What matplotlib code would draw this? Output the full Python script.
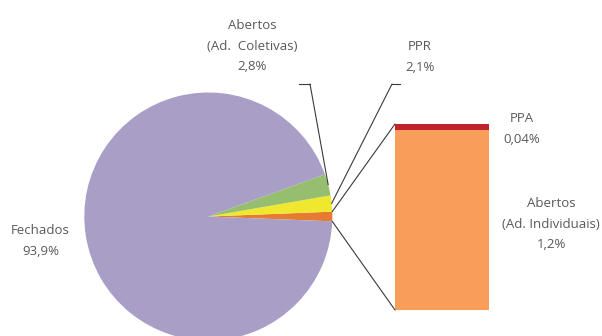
import matplotlib
matplotlib.use("Agg")
import matplotlib.pyplot as plt
from matplotlib.patches import ConnectionPatch
import numpy as np

# Pie composition (%)
pie_labels = ["Abertos (Ad. Individuais) + PPA", "PPR", "Abertos (Ad. Coletivas)", "Fechados"]
pie_values = [1.24, 2.1, 2.8, 93.9]
pie_colors = ["#E57A30", "#EFE82F", "#95BF6E", "#A99FC6"]

# Breakdown of the first slice (%)
bar_labels = ["Abertos (Ad. Individuais)", "PPA"]
bar_values = [1.2, 0.04]
bar_colors = ["#F99E5A", "#C1232C"]

# Text labels
label_texts = {
    "coletivas": "Abertos\n(Ad.  Coletivas)\n2,8%",
    "ppr": "PPR\n2,1%",
    "ppa": "PPA\n0,04%",
    "individuais": "Abertos\n(Ad. Individuais)\n1,2%",
    "fechados": "Fechados\n93,9%",
}

W, H = 602, 336
plt.rcParams["font.family"] = ["Open Sans", "DejaVu Sans"]
TEXT_COLOR = "#595959"
LINE_COLOR = "#3a3a3a"

fig = plt.figure(figsize=(W / 100, H / 100), dpi=100)


def frac_box(left, top, width, height):
    return [left / W, (H - top - height) / H, width / W, height / H]


# Pie
cx, cy, r = 208.3, 216.5, 124
ax_pie = fig.add_axes(frac_box(cx - r, cy - r, 2 * r, 2 * r))
start = -pie_values[0] / sum(pie_values) * 360 / 2
wedges, _ = ax_pie.pie(pie_values, colors=pie_colors, startangle=start,
                       counterclock=True, radius=1,
                       wedgeprops=dict(linewidth=0))
ax_pie.set_xlim(-1, 1)
ax_pie.set_ylim(-1, 1)
ax_pie.axis("off")

# Stacked bar for the breakdown
ax_bar = fig.add_axes(frac_box(395, 124, 94, 186))
bottom = 0
for val, col in zip(bar_values, bar_colors):
    ax_bar.bar(0, val, width=1, bottom=bottom, color=col, linewidth=0)
    bottom += val
ax_bar.set_xlim(-0.5, 0.5)
ax_bar.set_ylim(0, sum(bar_values))
ax_bar.axis("off")

# Overlay in pixel coordinates for labels and leader lines
ax_ov = fig.add_axes([0, 0, 1, 1], zorder=5)
ax_ov.set_xlim(0, W)
ax_ov.set_ylim(H, 0)
ax_ov.axis("off")
ax_ov.patch.set_alpha(0)


def wedge_point(w, ang=None):
    a = np.deg2rad((w.theta1 + w.theta2) / 2 if ang is None else ang)
    return (np.cos(a), np.sin(a))


def connect(xyA, transA, xyB, transB):
    con = ConnectionPatch(xyA=xyA, coordsA=transA, xyB=xyB, coordsB=transB,
                          color=LINE_COLOR, linewidth=0.8, zorder=6)
    fig.add_artist(con)


# Bar-to-slice lines
w0 = wedges[0]
connect((-0.5, sum(bar_values)), ax_bar.transData, wedge_point(w0, w0.theta2), ax_pie.transData)
connect((-0.5, 0), ax_bar.transData, wedge_point(w0, w0.theta1), ax_pie.transData)

# Leader for Abertos (Ad. Coletivas)
ax_ov.plot([299, 310], [84, 84], color=LINE_COLOR, lw=0.8)
connect((310, 84), ax_ov.transData, wedge_point(wedges[2]), ax_pie.transData)

# Leader for PPR
ax_ov.plot([392, 400], [84, 84], color=LINE_COLOR, lw=0.8)
connect((392, 84), ax_ov.transData, wedge_point(wedges[1]), ax_pie.transData)

txt_kw = dict(ha="center", va="center", color=TEXT_COLOR, fontsize=9.5, linespacing=1.75)
ax_ov.text(252, 46, label_texts["coletivas"], **txt_kw)
ax_ov.text(420, 57, label_texts["ppr"], **txt_kw)
ax_ov.text(522, 129, label_texts["ppa"], **txt_kw)
ax_ov.text(551, 224, label_texts["individuais"], **txt_kw)
ax_ov.text(40.5, 241, label_texts["fechados"], **txt_kw)

fig.savefig("out.png", dpi=100, facecolor="white")
